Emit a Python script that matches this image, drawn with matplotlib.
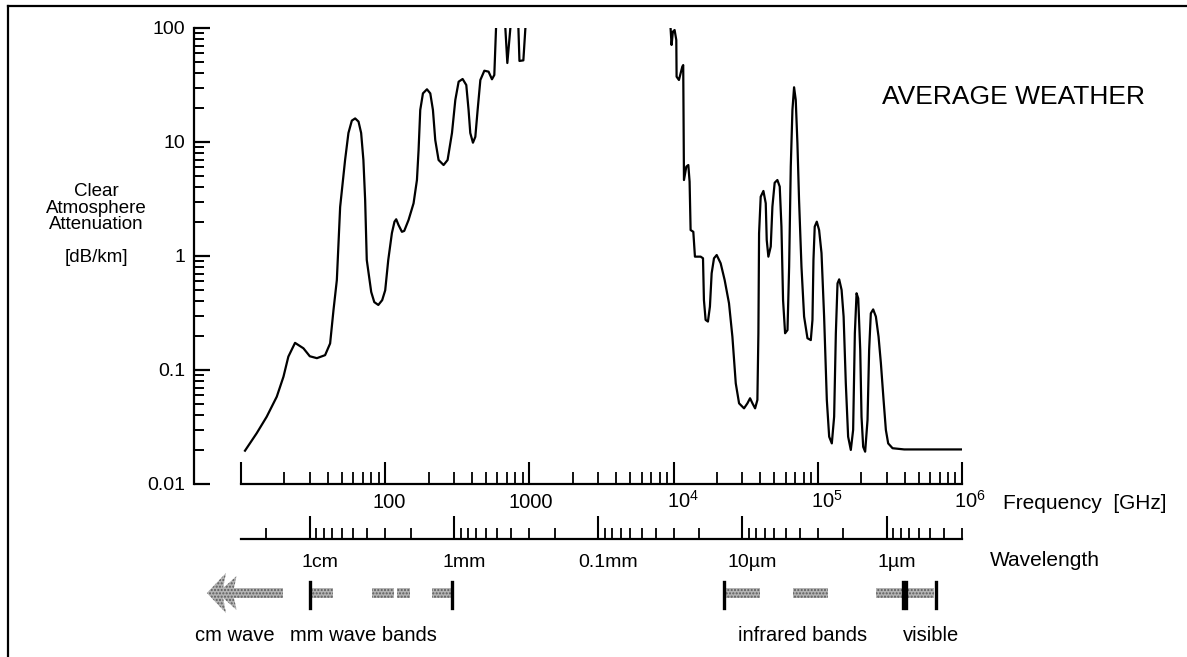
import matplotlib
matplotlib.use("Agg")
import matplotlib.pyplot as plt
from matplotlib.patches import Rectangle, Polygon
from matplotlib.lines import Line2D
from matplotlib.transforms import blended_transform_factory
from matplotlib.ticker import FixedLocator, NullFormatter

plt.rcParams['font.family'] = ['Liberation Sans', 'DejaVu Sans']

# ---- data (frequency in GHz, attenuation in dB/km) ----
# values above 100 are off the scale and get clipped at the top
freq = [10.66, 12.85, 15.07, 17.7, 19.7, 21.3, 23.7, 27.1, 30.0, 33.6, 38.3, 41.5, 43.8,
        46.2, 48.7, 52.7, 55.6, 58.7, 61.9, 65.3, 68.1, 70.6, 72.6, 74.5,
        80, 84, 89.6, 95.3, 100,
        105, 111.3, 116.0, 119.2, 123.7, 130.6, 135.5, 145.2, 157.3, 166, 170.4,
        175, 182.7, 194.8, 205.4, 214.3, 222.4, 234.5, 254, 270.8, 290.5, 306.4,
        323, 344.3, 365, 378.6, 389, 406, 421.7, 437.5, 457, 487, 521, 550, 571,
        587, 600,
        675, 681, 703, 738, 745, 830, 839, 853, 908, 938, 950,
        9300, 9528, 9683, 9886, 10160, 10440, 10490, 10890, 11490, 11660, 11800,
        12250, 12650, 12910, 13120, 13700, 14060, 15400, 15990, 16230, 16670,
        17300, 17860, 18360, 19060, 19900, 21200, 22600, 24220, 25570, 26980,
        28450, 30790, 32500, 33900, 35230, 36740, 38110, 38730, 39150, 40180,
        41960, 43550, 44240, 45420, 47170, 48440, 50220, 52440, 54450, 55960,
        57420, 59320, 61640, 63270, 64940, 66690, 68460, 70310, 72220, 74130,
        77040, 80350, 84780, 89420, 91830, 93300, 95200, 98400, 102100, 106100,
        110600, 115500, 119900, 125100, 129800, 133400, 137000, 140700, 146200,
        151000, 156400, 162300, 169400, 175800, 180700, 185700, 190700, 196900,
        201000, 206400, 213000, 221200, 227000, 233200, 242100, 252800, 263800,
        273800, 285800, 296500, 307700, 330000, 397400, 984000]
atten = [0.0196, 0.0279, 0.0389, 0.0583, 0.0873, 0.131, 0.173, 0.155, 0.132, 0.127, 0.135, 0.171, 0.336,
         0.615, 2.69, 6.95, 12.0, 15.4, 16.1, 15.1, 12.0, 6.95, 3.1, 0.923,
         0.483, 0.394, 0.372, 0.41, 0.50,
         0.923, 1.59, 2.0, 2.10, 1.87, 1.63, 1.66, 2.07, 2.90, 4.64, 8.51,
         19.1, 26.7, 29.0, 26.7, 19.1, 10.4, 6.95, 6.28, 6.95, 12.0, 23.4,
         33.8, 35.7, 31.6, 19.1, 12.0, 9.86, 11.1, 19.1, 35.0, 42.2, 41.4, 35.5, 38.7,
         100, 250,
         250, 100, 49.3, 100, 250, 250, 100, 51.4, 52.0, 100, 250,
         250, 100, 71.0, 92.8, 96.0, 78.5, 37.4, 35.0, 45.8, 47.3, 4.64,
         6.08, 6.28, 4.49, 1.69, 1.63, 0.987, 0.987, 0.955, 0.411, 0.275,
         0.266, 0.360, 0.705, 0.955, 1.02, 0.863, 0.615, 0.385, 0.196, 0.0764,
         0.0510, 0.0461, 0.0510, 0.0565, 0.0510, 0.0461, 0.0546, 0.210, 1.58, 3.31,
         3.72, 2.90, 1.38, 0.987, 1.21, 2.71, 4.39, 4.64, 4.06, 1.81,
         0.411, 0.210, 0.224, 0.806, 6.08, 19.1, 30.2, 23.4, 9.73, 3.10,
         0.806, 0.294, 0.190, 0.183, 0.275, 0.923, 1.81, 2.0, 1.69, 1.06,
         0.294, 0.0546, 0.0260, 0.0227, 0.0389, 0.210, 0.575, 0.624, 0.504,
         0.294, 0.0764, 0.0260, 0.0199, 0.0298, 0.210, 0.471, 0.425, 0.150,
         0.0389, 0.0212, 0.0192, 0.0364, 0.150, 0.314, 0.340, 0.294, 0.196,
         0.115, 0.0546, 0.0298, 0.0227, 0.0206, 0.0201, 0.0201]

y_ticks = [0.01, 0.1, 1, 10, 100]
y_labels = ['0.01', '0.1', '1', '10', '100']
f_ticks = [100, 1000, 1e4, 1e5, 1e6]
f_labels = ['100', '1000', r'$\mathregular{10^4}$', r'$\mathregular{10^5}$', r'$\mathregular{10^6}$']
f_label_dx = [4, 1, 9, 9, 8]

# wavelength axis (in micrometres)
wl_major = [10000, 1000, 100, 10, 1]
wl_labels = ['1cm', '1mm', '0.1mm', '10µm', '1µm']
wl_minor = [20000] + [m * d for d in (1000, 100, 10, 1, 0.1) for m in range(2, 10)]
wl_minor = [w for w in wl_minor if w >= 0.3]

# bands along the bottom, in GHz
cm_arrow = (5.8, 19.6)
mm_bands = [(31, 43.5), (81, 115), (121, 149), (212, 285)]
mm_edges = [30, 290]
ir_bands = [(22800, 40000), (67000, 117000), (253000, 388000)]
ir_edges = [22200]
vis_band = (425000, 640000)
vis_edges = [392000, 412000, 665000]

W, H = 1187, 657
fig = plt.figure(figsize=(W / 100, H / 100), dpi=100)

ax = fig.add_axes([241 / W, 1 - 484 / H, (962 - 241) / W, (484 - 28) / H])
ax.set_xscale('log')
ax.set_yscale('log')
ax.set_xlim(10, 1e6)
ax.set_ylim(0.01, 100)
ax.plot(freq, atten, color='black', lw=1.6, solid_joinstyle='round')

for s in ('top', 'right'):
    ax.spines[s].set_visible(False)
ax.spines['left'].set_position(('outward', 34))
ax.spines['left'].set_linewidth(1.6)
ax.spines['bottom'].set_linewidth(1.6)

ax.yaxis.set_major_locator(FixedLocator(y_ticks))
ax.set_yticklabels(y_labels)
ax.tick_params(axis='y', which='major', direction='in', length=11.5, width=1.6,
               pad=6, labelsize=14)
ax.tick_params(axis='y', which='minor', direction='in', length=7.5, width=1.4)
ax.yaxis.set_minor_formatter(NullFormatter())

ax.xaxis.set_major_locator(FixedLocator([10] + f_ticks))
ax.set_xticklabels([])
ax.xaxis.set_minor_formatter(NullFormatter())
ax.tick_params(axis='x', which='major', direction='in', length=16, width=1.5)
ax.tick_params(axis='x', which='minor', direction='in', length=8.5, width=1.3)

for f, lab, dx in zip(f_ticks, f_labels, f_label_dx):
    ax.annotate(lab, xy=(f, 0), xycoords=('data', 'axes fraction'),
                xytext=(dx * 0.72, -17), textcoords='offset points',
                ha='center', va='baseline', fontsize=14.5, annotation_clip=False)

# wavelength axis
ax2 = fig.add_axes([241 / W, 1 - 539 / H, (962 - 241) / W, 1e-4])
ax2.set_xscale('log')
ax2.set_xlim(10, 1e6)
ax2.patch.set_visible(False)
for s in ('top', 'right', 'left'):
    ax2.spines[s].set_visible(False)
ax2.spines['bottom'].set_linewidth(1.6)
ax2.set_yticks([])
ax2.xaxis.set_major_locator(FixedLocator([3e5 / w for w in wl_major]))
ax2.xaxis.set_minor_locator(FixedLocator([3e5 / w for w in wl_minor]))
ax2.set_xticklabels([])
ax2.xaxis.set_minor_formatter(NullFormatter())
ax2.tick_params(axis='x', which='major', direction='in', length=16.5, width=1.5)
ax2.tick_params(axis='x', which='minor', direction='in', length=8, width=1.3)
for w, lab in zip(wl_major, wl_labels):
    ax2.annotate(lab, xy=(3e5 / w, 0), xycoords=('data', 'axes fraction'),
                 xytext=(7, -20), textcoords='offset points',
                 ha='center', va='baseline', fontsize=14, annotation_clip=False)

fig.text(1003 / W, 1 - 509 / H, 'Frequency  [GHz]', fontsize=15, va='baseline')
fig.text(990 / W, 1 - 566 / H, 'Wavelength', fontsize=15, va='baseline')
fig.text(882 / W, 1 - 104 / H, 'AVERAGE WEATHER', fontsize=19, va='baseline')
fig.text(96 / W, 1 - 183 / H, 'Clear\nAtmosphere\nAttenuation', fontsize=13.5,
         ha='center', va='top', linespacing=0.98)
fig.text(96 / W, 1 - 249 / H, '[dB/km]', fontsize=13.5, ha='center', va='top')

# bands
tr = blended_transform_factory(ax.transData, fig.transFigure)
yb0, yb1 = 1 - 598 / H, 1 - 588 / H
ye0, ye1 = 1 - 608 / H, 1 - 582 / H
band_style = dict(facecolor='#b4b4b4', edgecolor='#5a5a5a', hatch='.....',
                  lw=0, transform=tr, clip_on=False)
for f0, f1 in mm_bands + ir_bands + [vis_band]:
    ax.add_patch(Rectangle((f0, yb0), f1 - f0, yb1 - yb0, **band_style))
for f in mm_edges + ir_edges + vis_edges:
    ax.add_line(Line2D([f, f], [ye0, ye1], color='black', lw=2.4,
                       transform=tr, clip_on=False))

# cm wave arrow with a double chevron head
tip, tail = cm_arrow
def along(t):
    return tip * (tail / tip) ** t
ax.add_patch(Rectangle((along(0.3), yb0), tail - along(0.3), yb1 - yb0, **band_style))
for t0, dy in ((0.14, 17), (0.0, 20)):
    ax.add_patch(Polygon([(along(t0), 1 - 593 / H),
                          (along(t0 + 0.25), 1 - (593 - dy) / H),
                          (along(t0 + 0.2), 1 - 593 / H),
                          (along(t0 + 0.25), 1 - (593 + dy) / H)],
                         closed=True, **band_style))

fig.text(195 / W, 1 - 641 / H, 'cm wave', fontsize=14.5, va='baseline')
fig.text(290 / W, 1 - 641 / H, 'mm wave bands', fontsize=14.5, va='baseline')
fig.text(738 / W, 1 - 641 / H, 'infrared bands', fontsize=14.5, va='baseline')
fig.text(903 / W, 1 - 641 / H, 'visible', fontsize=14.5, va='baseline')

# frame lines on top and left
fig.add_artist(Line2D([8 / W, 1], [1 - 6 / H, 1 - 6 / H], color='black', lw=1.6))
fig.add_artist(Line2D([8 / W, 8 / W], [0, 1 - 6 / H], color='black', lw=1.6))

fig.savefig('out.png', dpi=100)
